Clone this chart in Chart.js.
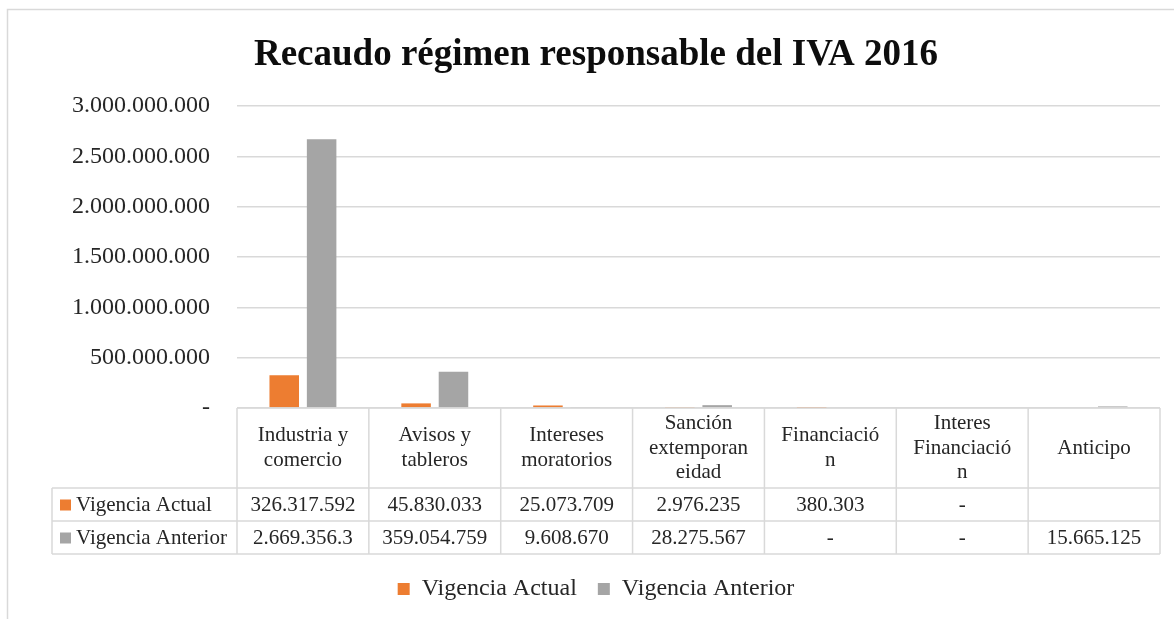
<!DOCTYPE html>
<html>
<head>
<meta charset="utf-8">
<script src="https://cdn.jsdelivr.net/npm/chart.js@4.4.1/dist/chart.umd.min.js"></script>
<style>
  html, body { margin:0; padding:0; background:#fff; }
  #wrap { width:1174px; height:619px; }
</style>
</head>
<body>
<div id="wrap"><canvas id="chart" width="1174" height="619"></canvas></div>
<script>
// data
const categories = [
  ['Industria y', 'comercio'],
  ['Avisos y', 'tableros'],
  ['Intereses', 'moratorios'],
  ['Sanción', 'extemporan', 'eidad'],
  ['Financiació', 'n'],
  ['Interes', 'Financiació', 'n'],
  ['Anticipo']
];
const seriesNames = ['Vigencia Actual', 'Vigencia Anterior'];
const vigenciaActual = [326317592, 45830033, 25073709, 2976235, 380303, 0, null];
const vigenciaAnterior = [2669356300, 359054759, 9608670, 28275567, 0, 0, 15665125];
const yTicks = [0, 500000000, 1000000000, 1500000000, 2000000000, 2500000000, 3000000000];
const colors = ['#ED7D31', '#A5A5A5'];

const SERIF = "'Liberation Serif', 'Times New Roman', serif";
const TEXT = '#262626';
const LINE = '#d9d9d9';

// 1234567 -> 1.234.567, 0 -> '-', null -> ''
function fmt(v){
  if(v === null || v === undefined) return '';
  if(v === 0) return '-';
  return String(Math.round(v)).replace(/\B(?=(\d{3})+(?!\d))/g, '.');
}
// table cells only show what fits (like the original sheet)
function cellText(v){ const s = fmt(v); return s.length > 11 ? s.slice(0, 11) : s; }

// white background + chart border
const frame = {
  id: 'frame',
  beforeDraw(chart){
    const ctx = chart.ctx;
    ctx.save();
    ctx.fillStyle = '#fff';
    ctx.fillRect(0, 0, chart.width, chart.height);
    ctx.strokeStyle = LINE; ctx.lineWidth = 1.5;
    ctx.strokeRect(7.5, 9.5, chart.width, chart.height);
    ctx.restore();
  }
};

// data table under the plot, aligned on the x scale
const dataTable = {
  id: 'dataTable',
  afterDraw(chart){
    const {ctx, chartArea} = chart;
    const x = chart.scales.x;
    const n = categories.length;
    const w = x.getPixelForValue(1) - x.getPixelForValue(0);
    const top = chartArea.bottom;
    const headH = 80, rowH = 33;
    const r1 = top + headH, r2 = r1 + rowH, bot = r2 + rowH;
    const labelLeft = 52;
    const left = x.getPixelForValue(0) - w/2;
    const right = x.getPixelForValue(n-1) + w/2;

    ctx.save();
    ctx.strokeStyle = LINE; ctx.lineWidth = 1.5;
    ctx.beginPath();
    ctx.moveTo(left, top); ctx.lineTo(right, top);
    [r1, r2, bot].forEach(y => { ctx.moveTo(labelLeft, y); ctx.lineTo(right, y); });
    ctx.moveTo(labelLeft, r1); ctx.lineTo(labelLeft, bot);
    for(let i = 0; i <= n; i++){
      const xx = left + i*w;
      ctx.moveTo(xx, top); ctx.lineTo(xx, bot);
    }
    ctx.stroke();

    ctx.fillStyle = TEXT;
    ctx.font = '21px ' + SERIF;
    ctx.textAlign = 'center'; ctx.textBaseline = 'middle';
    const lh = 24.5;
    categories.forEach((lines, i) => {
      const cx = x.getPixelForValue(i);
      const cy = top + headH/2 - (lines.length - 1)*lh/2;
      lines.forEach((t, k) => ctx.fillText(t, cx, cy + k*lh));
    });
    [vigenciaActual, vigenciaAnterior].forEach((arr, s) => {
      const cy = (s === 0 ? r1 : r2) + rowH/2 + 1;
      arr.forEach((v, i) => ctx.fillText(cellText(v), x.getPixelForValue(i), cy));
      ctx.fillStyle = colors[s];
      ctx.fillRect(60, cy - 6, 11, 11);
      ctx.fillStyle = TEXT;
      ctx.textAlign = 'left';
      ctx.fillText(seriesNames[s], 76, cy);
      ctx.textAlign = 'center';
    });
    ctx.restore();
  }
};

new Chart(document.getElementById('chart'), {
  type: 'bar',
  data: {
    labels: categories,
    datasets: [
      { label: seriesNames[0], data: vigenciaActual, backgroundColor: colors[0] },
      { label: seriesNames[1], data: vigenciaAnterior, backgroundColor: colors[1] }
    ]
  },
  options: {
    responsive: false,
    animation: false,
    layout: { padding: { left: 32, right: 14, top: 0, bottom: 8 } },
    datasets: { bar: { categoryPercentage: 0.567, barPercentage: 0.79 } },
    scales: {
      x: {
        ticks: { display: false },
        grid: { display: false },
        border: { display: false },
        afterFit(s){ s.height = 148; }
      },
      y: {
        min: 0, max: 3000000000,
        afterBuildTicks(s){ s.ticks = yTicks.map(v => ({ value: v })); },
        ticks: {
          padding: 27,
          color: TEXT,
          font: { family: SERIF, size: 24 },
          callback: v => fmt(v)
        },
        grid: { color: LINE, lineWidth: 1.5, drawTicks: false },
        border: { display: false },
        afterFit(s){ s.width = 205; }
      }
    },
    plugins: {
      title: {
        display: true,
        text: 'Recaudo régimen responsable del IVA 2016',
        color: '#0d0d0d',
        font: { family: SERIF, size: 37, weight: 'bold' },
        padding: { top: 33, bottom: 28.6 }
      },
      legend: {
        position: 'bottom',
        labels: {
          color: TEXT,
          font: { family: SERIF, size: 24 },
          boxWidth: 12, boxHeight: 12,
          padding: 21
        }
      },
      tooltip: { enabled: false }
    }
  },
  plugins: [frame, dataTable]
});
</script>
</body>
</html>
